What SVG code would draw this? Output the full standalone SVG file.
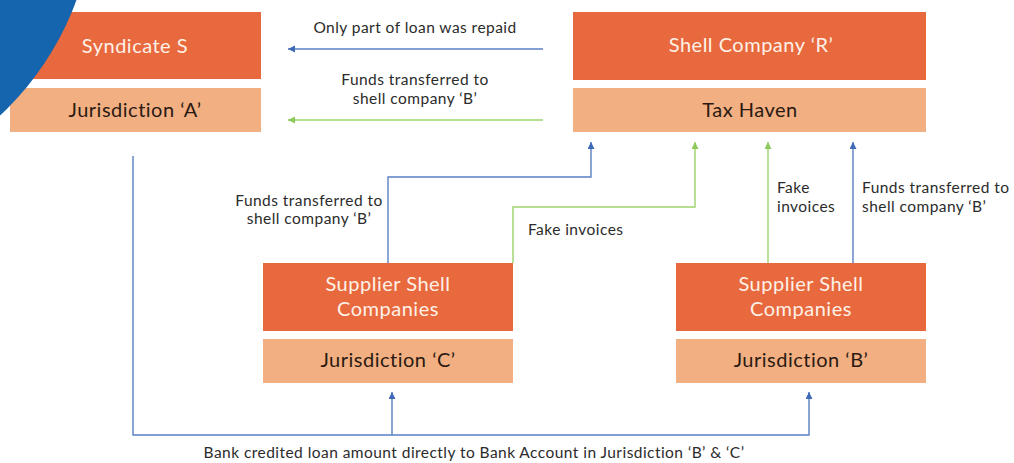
<svg xmlns="http://www.w3.org/2000/svg" width="1014" height="463" viewBox="0 0 1014 463">
<defs>
<style>
.dark{fill:#E8693D}
.light{fill:#F2AF82}
.t1{font-family:Lato,"Open Sans",sans-serif;font-size:20px;letter-spacing:0.5px;fill:#FFF1E8;text-anchor:middle}
.t2{font-family:Lato,"Open Sans",sans-serif;font-size:20px;letter-spacing:0.5px;fill:#2A1A12;text-anchor:middle}
.lb{font-family:Lato,"Open Sans",sans-serif;font-size:15.5px;letter-spacing:0.45px;fill:#2B2B2B}
.mid{text-anchor:middle}
.bl{fill:none;stroke:#5B7FC4;stroke-width:1.4}
.gr{fill:none;stroke:#9DD46C;stroke-width:1.4}
</style>
<marker id="ab" markerUnits="userSpaceOnUse" markerWidth="8" markerHeight="8" refX="7" refY="3.5" orient="auto">
<path d="M0,0 L7,3.5 L0,7 z" fill="#3E6AB8"/>
</marker>
<marker id="ag" markerUnits="userSpaceOnUse" markerWidth="8" markerHeight="8" refX="7" refY="3.5" orient="auto">
<path d="M0,0 L7,3.5 L0,7 z" fill="#8CC85A"/>
</marker>
</defs>
<rect width="1014" height="463" fill="#FFFFFF"/>

<g id="syndicate">
<rect class="dark" x="10" y="12" width="251" height="67"/>
<rect class="light" x="10" y="88" width="251" height="44"/>
<text class="t1" x="135" y="53">Syndicate S</text>
<text class="t2" x="135" y="117">Jurisdiction ‘A’</text>
</g>

<circle id="corner" cx="-200" cy="-100" r="294" fill="#1565AE"/>

<g id="shell-r">
<rect class="dark" x="573" y="12" width="353" height="68"/>
<rect class="light" x="573" y="88" width="353" height="44"/>
<text class="t1" x="751" y="52">Shell Company ‘R’</text>
<text class="t2" x="750" y="117">Tax Haven</text>
</g>

<g id="supplier-c">
<rect class="dark" x="263" y="263" width="250" height="68"/>
<rect class="light" x="263" y="339" width="250" height="44"/>
<text class="t1" x="388" y="291">Supplier Shell</text>
<text class="t1" x="388" y="316">Companies</text>
<text class="t2" x="388" y="367">Jurisdiction ‘C’</text>
</g>

<g id="supplier-b">
<rect class="dark" x="676" y="263" width="250" height="68"/>
<rect class="light" x="676" y="339" width="250" height="44"/>
<text class="t1" x="801" y="291">Supplier Shell</text>
<text class="t1" x="801" y="316">Companies</text>
<text class="t2" x="801" y="367">Jurisdiction ‘B’</text>
</g>

<g id="connectors">
<path class="bl" d="M543,49 H288" marker-end="url(#ab)"/>
<path class="gr" d="M543,120 H288" marker-end="url(#ag)"/>
<path class="bl" d="M388,263 V177 H591 V142" marker-end="url(#ab)"/>
<path class="gr" d="M513,263 V207 H695 V142" marker-end="url(#ag)"/>
<path class="gr" d="M768,263 V142" marker-end="url(#ag)"/>
<path class="bl" d="M853,263 V142" marker-end="url(#ab)"/>
<path class="bl" d="M133,156 V435 H809 V392" marker-end="url(#ab)"/>
<path class="bl" d="M392,435 V392" marker-end="url(#ab)"/>
</g>

<g id="labels">
<text class="lb mid" x="415" y="33">Only part of loan was repaid</text>
<text class="lb mid" x="415" y="85">Funds transferred to</text>
<text class="lb mid" x="415" y="104">shell company ‘B’</text>
<text class="lb mid" x="309" y="206">Funds transferred to</text>
<text class="lb mid" x="309" y="224">shell company ‘B’</text>
<text class="lb" x="528" y="235">Fake invoices</text>
<text class="lb" x="777" y="193">Fake</text>
<text class="lb" x="777" y="212">invoices</text>
<text class="lb" x="862" y="193">Funds transferred to</text>
<text class="lb" x="862" y="212">shell company ‘B’</text>
<text class="lb mid" x="474" y="458">Bank credited loan amount directly to Bank Account in Jurisdiction ‘B’ &amp; ‘C’</text>
</g>
</svg>
